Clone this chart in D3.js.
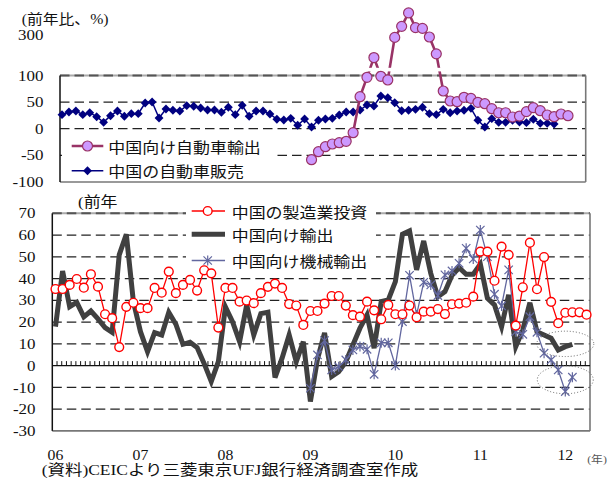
<!DOCTYPE html>
<html>
<head>
<meta charset="utf-8">
<script src="https://cdn.jsdelivr.net/npm/d3@7"></script>
<style>
  html, body { margin: 0; padding: 0; background: #fff; }
  svg { display: block; }
</style>
</head>
<body>
<svg id="chart" width="609" height="478"></svg>
<script>
// ---------------- data ----------------
// month index 0 = 2006年1月
const autoSalesMonths = d3.range(0, 72);               // 2006/01 - 2011/12
const autoSales = [26.3, 31.4, 33.2, 26.3, 30.0, 22.5, 12.0, 24.4, 33.2, 23.3, 28.2, 28.2,
                   48.3, 50.1, 20.1, 37.0, 34.6, 33.2, 43.2, 42.1, 38.9, 35.1, 35.1, 30.8,
                   40.2, 26.3, 43.9, 23.3, 33.2, 33.2, 27.6, 17.7, 16.3, 19.5, 6.4, 18.2,
                   3.2, 15.8, 18.2, 19.5, 25.7, 31.4, 31.4, 35.1, 44.5, 42.6, 61.4, 58.2,
                   48.8, 33.8, 34.6, 36.4, 40.2, 28.2, 26.3, 36.4, 30.0, 33.2, 34.6, 38.3,
                   15.8, 3.2, 18.8, 12.0, 12.0, 15.8, 12.6, 11.3, 17.7, 10.1, 10.1, 8.8];

const autoExportMonths = d3.range(36, 74);             // 2009/01 - 2012/02
const autoExport = [-58.2, -43.2, -33.8, -28.7, -26.3, -23.7, -7.5, 60.1, 96.5, 187.8, 98.4, 91.5,
                    286.7, 341, 407, 334.7, 331, 288.7, 206, 70.8, 52, 50.7, 59, 57,
                    49.6, 47, 37.6, 30, 30, 22, 23.8, 32, 39.4, 33.8, 25.7, 22.5,
                    27.6, 24.4];

const investMonths = d3.range(0, 76);                  // 2006/01 - 2012/04
const mfgInvestment = [35.2, 35.2, 37.1, 39.8, 35.8, 42.0, 36.3, 23.6, 21.8, 8.5, 27.0, 28.9,
                       26.4, 26.4, 35.7, 33.5, 43.2, 33.3, 37.1, 39.4, 34.5, 43.8, 42.4, 17.5,
                       35.7, 35.7, 29.4, 29.9, 28.7, 33.3, 36.2, 37.7, 35.7, 28.3, 27.6, 18.7,
                       25.1, 25.1, 28.5, 32.0, 32.0, 27.6, 23.2, 22.5, 29.4, 25.4, 21.3, 27.9,
                       23.6, 23.6, 27.6, 22.2, 24.8, 24.8, 26.0, 23.7, 28.2, 28.5, 28.9, 31.7,
                       52.4, 52.4, 39.0, 54.7, 50.9, 18.4, 36.0, 56.5, 35.1, 49.9, 29.3, 19.5,
                       24.3, 24.5, 24.5, 23.4];

const exportMonths = d3.range(0, 74);                  // 2006/01 - 2012/02
const exportsToChina = [17.9, 43.5, 27.1, 29.1, 22.4, 25.1, 21.5, 17.5, 15.3, 50.9, 60.4, 29.4,
                        15.6, 6.4, 15.2, 14.1, 24.5, 19.0, 9.8, 10.7, 8.3, 0.9, -7.3, 1.8,
                        27.0, 20.2, 11.0, 27.9, 14.1, 23.9, 24.5, -5.5, 3.4, 14.1, 1.8, 11.0,
                        -16.5, 3.0, 15.0, -5.0, -2.8, 1.8, 9.5, 17.2, 23.3, 8.0, 29.4, 30.2,
                        38.6, 60.4, 61.9, 44.0, 57.3, 42.4, 31.7, 34.0, 41.5, 45.0, 42.0, 42.0,
                        46.6, 31.0, 27.9, 17.9, 32.5, 8.7, 16.4, 28.9, 15.6, 14.1, 12.6, 7.2,
                        8.7, 9.8];

const machineMonths = d3.range(36, 74);                // 2009/01 - 2012/02
const machineExports = [-10.4, 4.9, 11.5, -2.0, -0.5, 2.6, 7.2, 8.8, 7.5, -4.0, 10.5, 10.5,
                        0.0, 20.2, 41.5, 23.3, 38.3, 37.1, 32.2, 41.7, 43.5, 47.0, 53.9, 49.0,
                        62.3, 50.1, 32.8, 27.4, 44.0, 15.6, 14.4, 22.5, 15.3, 5.7, 2.6, -2.0,
                        -11.9, -5.3];

const topTicks = [100, 50, 0, -50, -100];
const topExtraTick = 300;
const bottomTicks = [70, 60, 50, 40, 30, 20, 10, 0, -10, -20, -30];
const yearLabels = ["06", "07", "08", "09", "10", "11", "12"];
const yearMonths = [0, 12, 24, 36, 48, 60, 72];

const topSeriesNames = ["中国向け自動車輸出", "中国の自動車販売"];
const bottomSeriesNames = ["中国の製造業投資", "中国向け輸出", "中国向け機械輸出"];

// ---------------- setup ----------------
const svg = d3.select("#chart");
const SX = 1.13;                       // horizontal stretch of all lettering
const NUM_FONT = "'Liberation Serif', 'Noto Sans CJK JP', serif";
const JP_FONT = "'Noto Sans CJK JP', sans-serif";
const MIX_FONT = "'Liberation Serif', 'Noto Sans CJK JP', serif";

function label(parent, x, y, s, o = {}) {
  return parent.append("text")
    .attr("transform", `translate(${x},${y}) scale(${o.sx || SX},1)`)
    .attr("text-anchor", o.anchor || "start")
    .attr("dominant-baseline", "central")
    .attr("font-family", o.font || NUM_FONT)
    .attr("font-size", o.size || 15)
    .attr("fill", o.color || "#111")
    .text(s);
}

const GRID_DASH = "9.5,5";

// ================= upper panel: auto exports / auto sales =================
const T = { left: 60, right: 585.7, top: 75.45, bottom: 181.95 };
const xTop = d3.scaleLinear().domain([0, 73]).range([62, 568]);
const yTop = d3.scaleLinear().domain([-100, 100, 300]).range([T.bottom, T.top, 34.7]);

const gTop = svg.append("g");

// grid
gTop.selectAll("line.grid").data(topTicks.filter(d => d !== 100 && d !== -100)).join("line")
  .attr("x1", T.left).attr("x2", T.right)
  .attr("y1", d => yTop(d)).attr("y2", d => yTop(d))
  .attr("stroke", "#222").attr("stroke-width", 1.2).attr("stroke-dasharray", GRID_DASH);
// frame
gTop.append("line").attr("x1", T.left).attr("x2", T.right).attr("y1", yTop(100)).attr("y2", yTop(100))
  .attr("stroke", "#aaa").attr("stroke-width", 2);
gTop.append("line").attr("x1", T.left).attr("x2", T.right).attr("y1", yTop(100)).attr("y2", yTop(100))
  .attr("stroke", "#555").attr("stroke-width", 2).attr("stroke-dasharray", GRID_DASH);
gTop.append("line").attr("x1", T.left).attr("x2", T.right).attr("y1", T.bottom).attr("y2", T.bottom)
  .attr("stroke", "#777").attr("stroke-width", 1.6);
gTop.append("line").attr("x1", T.right).attr("x2", T.right).attr("y1", T.top).attr("y2", T.bottom)
  .attr("stroke", "#777").attr("stroke-width", 1.6);
gTop.append("line").attr("x1", T.left).attr("x2", T.left).attr("y1", T.top).attr("y2", T.bottom)
  .attr("stroke", "#111").attr("stroke-width", 1.5);

// y labels
topTicks.concat([topExtraTick]).forEach(v => label(gTop, 43.5, yTop(v), String(v), { anchor: "end" }));
label(gTop, 21.7, 19, "(前年比、%)", { font: MIX_FONT, size: 14 });

// legend background
gTop.append("rect").attr("x", 62).attr("y", 134).attr("width", 212).attr("height", 46).attr("fill", "#fff");

// auto sales (diamonds)
const salesPts = autoSalesMonths.map((m, i) => [xTop(m), yTop(autoSales[i])]);
gTop.append("path").attr("d", d3.line()(salesPts))
  .attr("fill", "none").attr("stroke", "#000080").attr("stroke-width", 1.5);
const diamond = d3.symbol().type(d3.symbolDiamond2).size(50);
gTop.selectAll("path.dia").data(salesPts).join("path")
  .attr("transform", d => `translate(${d[0]},${d[1]})`)
  .attr("d", diamond).attr("fill", "#000080");

// auto exports (circles), with axis break band
const expPts = autoExportMonths.map((m, i) => [xTop(m), yTop(autoExport[i])]);
gTop.append("path").attr("d", d3.line()(expPts))
  .attr("fill", "none").attr("stroke", "#993366").attr("stroke-width", 2.6);
gTop.append("rect").attr("x", xTop(42)).attr("y", 67.8).attr("width", xTop(57) - xTop(42)).attr("height", 3.6)
  .attr("fill", "#fff");
gTop.selectAll("circle.exp").data(expPts).join("circle")
  .attr("cx", d => d[0]).attr("cy", d => d[1]).attr("r", 5)
  .attr("fill", "#CC99FF").attr("stroke", "#993366").attr("stroke-width", 1.2);

// legend items
const topLegY = [146, 170.7];
gTop.append("line").attr("x1", 71.7).attr("x2", 103.3).attr("y1", topLegY[0]).attr("y2", topLegY[0])
  .attr("stroke", "#993366").attr("stroke-width", 2.6);
gTop.append("circle").attr("cx", 87.5).attr("cy", topLegY[0]).attr("r", 5)
  .attr("fill", "#CC99FF").attr("stroke", "#993366").attr("stroke-width", 1.2);
gTop.append("line").attr("x1", 71.7).attr("x2", 103.3).attr("y1", topLegY[1]).attr("y2", topLegY[1])
  .attr("stroke", "#000080").attr("stroke-width", 1.5);
gTop.append("path").attr("transform", `translate(87.5,${topLegY[1]})`).attr("d", diamond).attr("fill", "#000080");
topSeriesNames.forEach((s, i) => label(gTop, 108.3, topLegY[i], s, { font: JP_FONT }));

// ================= lower panel: investment / exports =================
const B = { left: 52.3, right: 590, top: 213.3, bottom: 430.9 };
const xBot = d3.scaleLinear().domain([0, 72]).range([55.5, 565.3]);
const yBot = d3.scaleLinear().domain([-30, 70]).range([B.bottom, B.top]);

const gBot = svg.append("g");

gBot.selectAll("line.grid").data(bottomTicks.filter(d => d !== 70 && d !== -30 && d !== 0)).join("line")
  .attr("x1", B.left).attr("x2", B.right)
  .attr("y1", d => yBot(d)).attr("y2", d => yBot(d))
  .attr("stroke", "#222").attr("stroke-width", 1.2).attr("stroke-dasharray", GRID_DASH);
gBot.append("line").attr("x1", B.left).attr("x2", B.right).attr("y1", yBot(70)).attr("y2", yBot(70))
  .attr("stroke", "#aaa").attr("stroke-width", 2);
gBot.append("line").attr("x1", B.left).attr("x2", B.right).attr("y1", yBot(70)).attr("y2", yBot(70))
  .attr("stroke", "#555").attr("stroke-width", 2).attr("stroke-dasharray", GRID_DASH);
gBot.append("line").attr("x1", B.left).attr("x2", B.right).attr("y1", B.bottom).attr("y2", B.bottom)
  .attr("stroke", "#777").attr("stroke-width", 1.6);
gBot.append("line").attr("x1", B.right).attr("x2", B.right).attr("y1", B.top).attr("y2", B.bottom)
  .attr("stroke", "#777").attr("stroke-width", 1.6);
gBot.append("line").attr("x1", B.left).attr("x2", B.left).attr("y1", B.top).attr("y2", B.bottom)
  .attr("stroke", "#111").attr("stroke-width", 1.5);
// zero line with minor ticks
gBot.append("line").attr("x1", B.left).attr("x2", B.right).attr("y1", yBot(0)).attr("y2", yBot(0))
  .attr("stroke", "#111").attr("stroke-width", 1.4);
const minorX = d3.scaleLinear().domain([0, 114]).range([B.left, B.right]);
gBot.selectAll("line.mt").data(d3.range(1, 114)).join("line")
  .attr("x1", d => minorX(d)).attr("x2", d => minorX(d))
  .attr("y1", yBot(0)).attr("y2", yBot(0) - 4.5)
  .attr("stroke", "#111").attr("stroke-width", 1);

// labels
bottomTicks.forEach(v => label(gBot, 35.5, yBot(v), String(v), { anchor: "end" }));
yearLabels.forEach((s, i) => label(gBot, xBot(yearMonths[i]), 455.5, s, { anchor: "middle", size: 14 }));
label(gBot, 597, 459, "(年)", { anchor: "middle", font: MIX_FONT, size: 10.5, color: "#555" });
label(gBot, 78, 201.5, "(前年", { font: MIX_FONT, size: 15 });
label(gBot, 41.7, 470.5, "(資料)CEICより三菱東京UFJ銀行経済調査室作成", { font: MIX_FONT, size: 14.6, sx: 1.195 });

// legend background
gBot.append("rect").attr("x", 186).attr("y", 199).attr("width", 190).attr("height", 67).attr("fill", "#fff");

// exports to China (thick line)
const exLine = d3.line().x((d, i) => xBot(exportMonths[i])).y(d => yBot(d));
gBot.append("path").attr("d", exLine(exportsToChina))
  .attr("fill", "none").attr("stroke", "#404040").attr("stroke-width", 5).attr("stroke-linejoin", "miter");

// machinery exports (asterisk markers)
const maPts = machineMonths.map((m, i) => [xBot(m), yBot(machineExports[i])]);
const BLUE = "#62679F";
gBot.append("path").attr("d", d3.line()(maPts))
  .attr("fill", "none").attr("stroke", BLUE).attr("stroke-width", 1.3);
function star(sel) {
  const r = 4.2;
  sel.append("path")
    .attr("d", `M${-r},${-r}L${r},${r}M${-r},${r}L${r},${-r}M0,${-r - 0.8}L0,${r + 0.8}`)
    .attr("stroke", BLUE).attr("stroke-width", 1.2).attr("fill", "none");
}
gBot.selectAll("g.ma").data(maPts).join("g")
  .attr("transform", d => `translate(${d[0]},${d[1]})`).call(star);

// manufacturing investment (open circles)
const inPts = investMonths.map((m, i) => [xBot(m), yBot(mfgInvestment[i])]);
gBot.append("path").attr("d", d3.line()(inPts))
  .attr("fill", "none").attr("stroke", "#FF0000").attr("stroke-width", 1.3);
gBot.selectAll("circle.in").data(inPts).join("circle")
  .attr("cx", d => d[0]).attr("cy", d => d[1]).attr("r", 4.4)
  .attr("fill", "#fff").attr("stroke", "#FF0000").attr("stroke-width", 1.4);

// dotted ellipses around the latest readings
const lastM = 72;
gBot.append("ellipse").attr("cx", xBot(lastM)).attr("cy", yBot(10)).attr("rx", 28.5).attr("ry", 12.7)
  .attr("fill", "none").attr("stroke", "#666").attr("stroke-width", 1).attr("stroke-dasharray", "1,2");
gBot.append("ellipse").attr("cx", xBot(lastM)).attr("cy", yBot(-6.5)).attr("rx", 28).attr("ry", 14)
  .attr("fill", "none").attr("stroke", "#666").attr("stroke-width", 1).attr("stroke-dasharray", "1,2");

// legend items
const botLegY = [211, 234.3, 260.5];
gBot.append("line").attr("x1", 191.7).attr("x2", 225).attr("y1", botLegY[0]).attr("y2", botLegY[0])
  .attr("stroke", "#FF0000").attr("stroke-width", 1.3);
gBot.append("circle").attr("cx", 207.7).attr("cy", botLegY[0]).attr("r", 4.4)
  .attr("fill", "#fff").attr("stroke", "#FF0000").attr("stroke-width", 1.4);
gBot.append("line").attr("x1", 191.7).attr("x2", 225).attr("y1", botLegY[1]).attr("y2", botLegY[1])
  .attr("stroke", "#404040").attr("stroke-width", 5);
gBot.append("line").attr("x1", 191.7).attr("x2", 225).attr("y1", botLegY[2]).attr("y2", botLegY[2])
  .attr("stroke", BLUE).attr("stroke-width", 1.3);
gBot.append("g").attr("transform", `translate(207.7,${botLegY[2]})`).call(star);
bottomSeriesNames.forEach((s, i) => label(gBot, 231.7, botLegY[i], s, { font: JP_FONT }));
</script>
</body>
</html>
